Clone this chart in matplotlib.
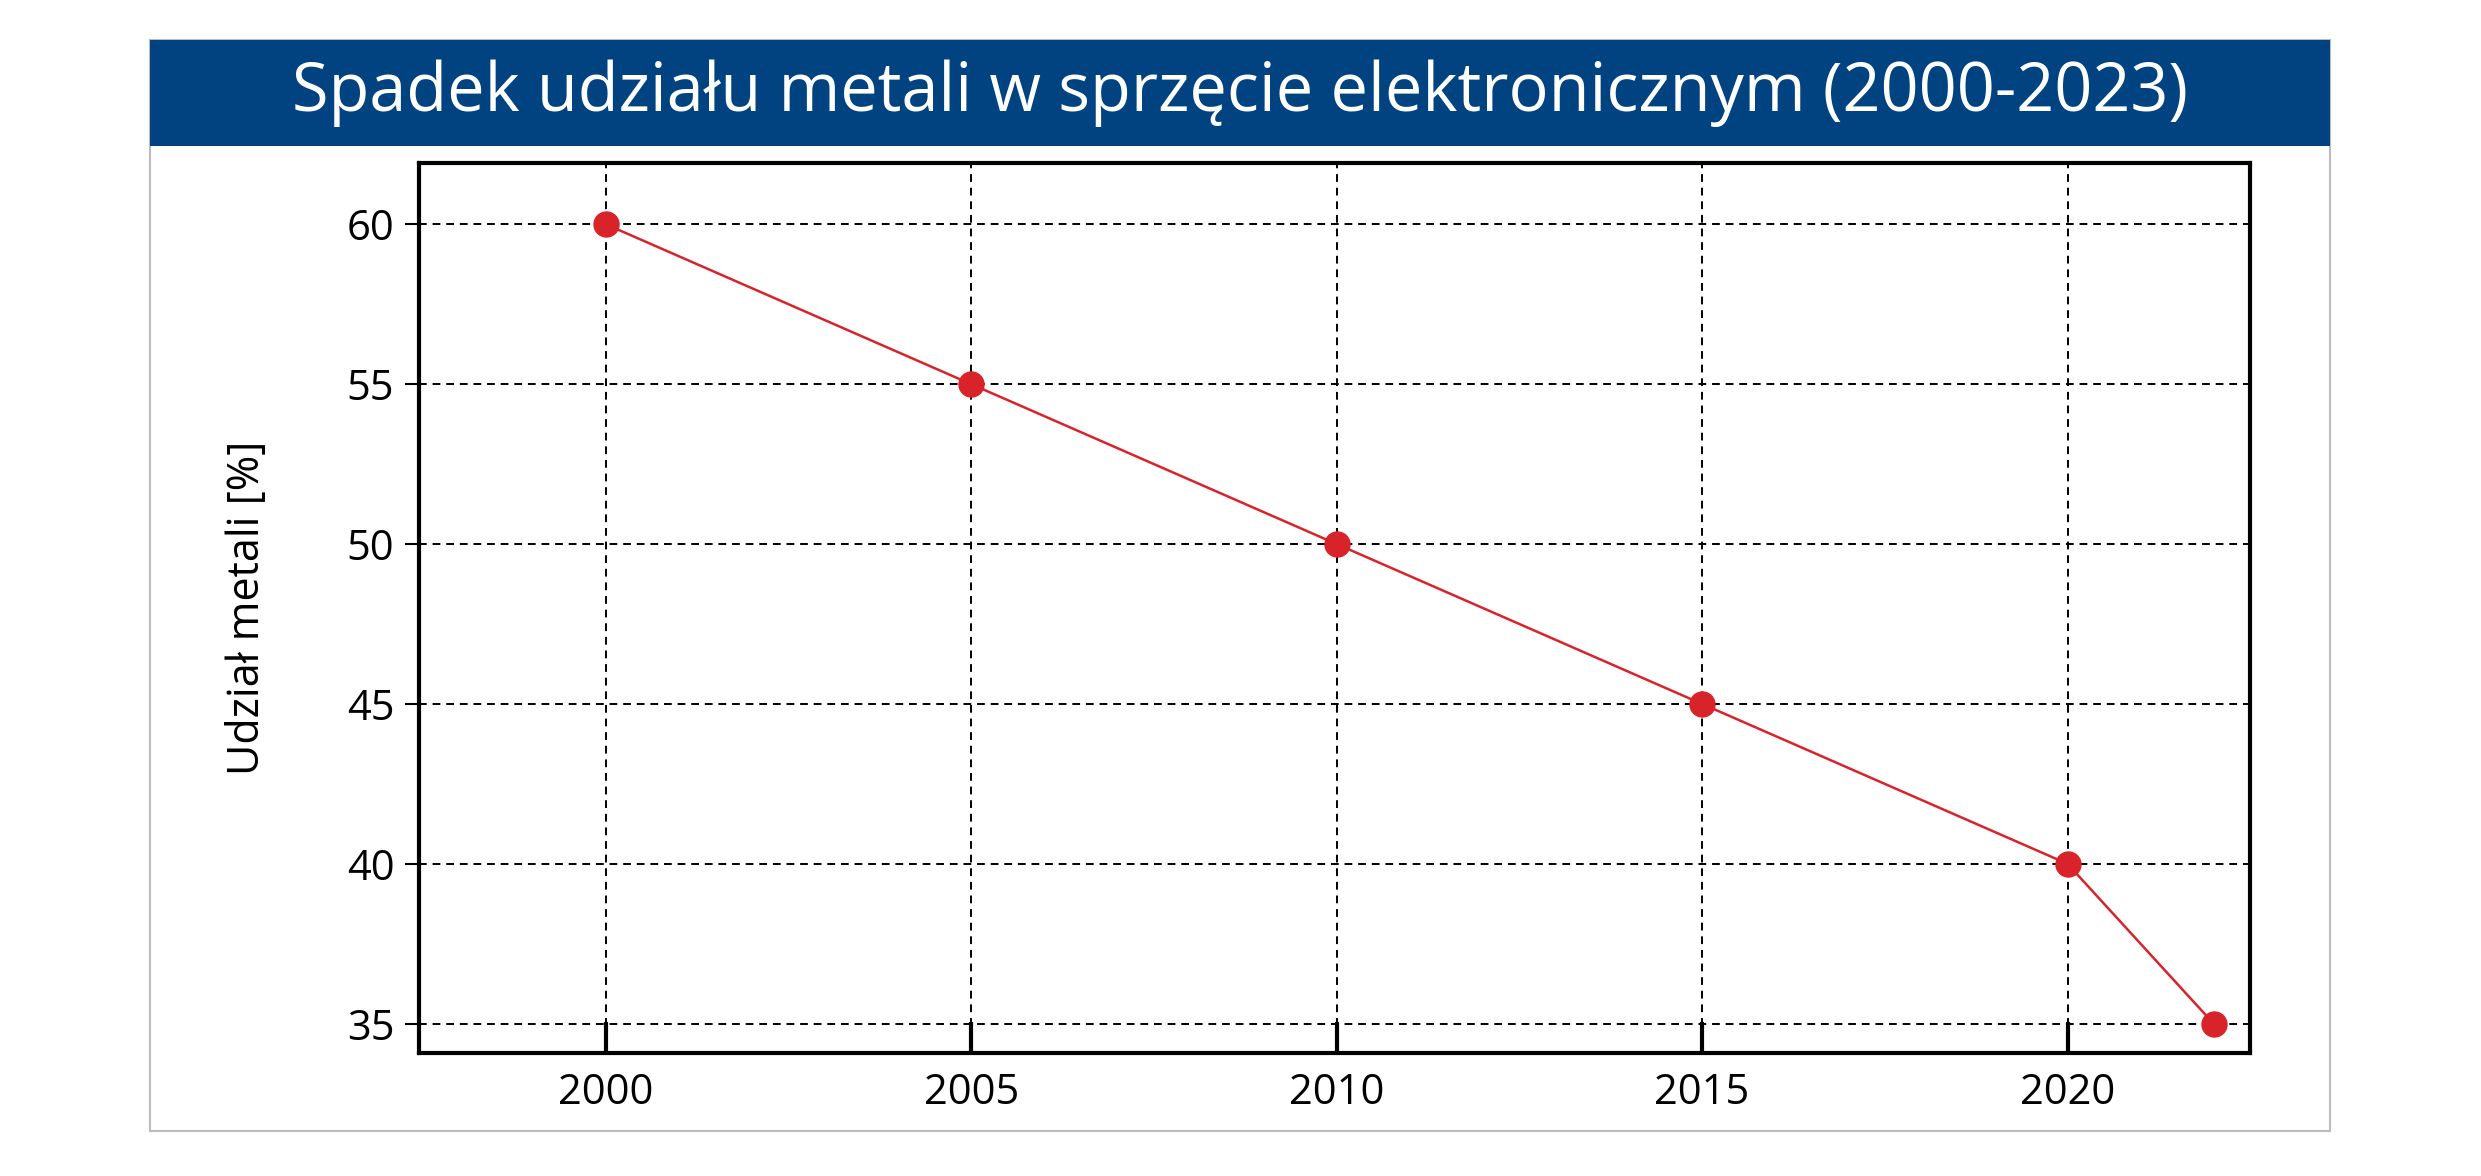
import matplotlib
matplotlib.use("Agg")
import matplotlib.pyplot as plt
from matplotlib.patches import Rectangle

years = [2000, 2005, 2010, 2015, 2020, 2022]
share = [60, 55, 50, 45, 40, 35]
xticks = [2000, 2005, 2010, 2015, 2020]
yticks = [35, 40, 45, 50, 55, 60]
title = "Spadek udziału metali w sprzęcie elektronicznym (2000-2023)"
ylabel = "Udział metali [%]"

plt.rcParams['font.family'] = ['Open Sans', 'DejaVu Sans']
fig = plt.figure(figsize=(24.81, 11.76), dpi=100)
fig.patches.append(Rectangle((0.0605, 0.038), 0.8785, 0.928, transform=fig.transFigure,
                             fill=False, edgecolor='#bbbbbb', linewidth=1.5))
fig.patches.append(Rectangle((0.0605, 0.876), 0.8785, 0.09, transform=fig.transFigure,
                             facecolor='#004380', edgecolor='none'))
fig.text(0.5, 0.921, title, ha='center', va='center', color='white', fontsize=48)

ax = fig.add_axes([0.169, 0.105, 0.738, 0.756])
ax.plot(years, share, color='#d9232a', linewidth=1.8, marker='o', markersize=18, zorder=3)
ax.set_xlim(1997.45, 2022.5)
ax.set_ylim(34.1, 61.9)
ax.set_xticks(xticks)
ax.set_yticks(yticks)
ax.grid(True, color='black', linestyle=(0, (4, 3)), linewidth=1.4)
for s in ax.spines.values():
    s.set_linewidth(3)
ax.tick_params(axis='x', direction='in', length=22, width=3, labelsize=30, pad=14)
ax.tick_params(axis='y', direction='out', length=10, width=1.5, labelsize=30, pad=8)
ax.set_ylabel(ylabel, fontsize=31, labelpad=55)
fig.savefig("out.png", dpi=100)
